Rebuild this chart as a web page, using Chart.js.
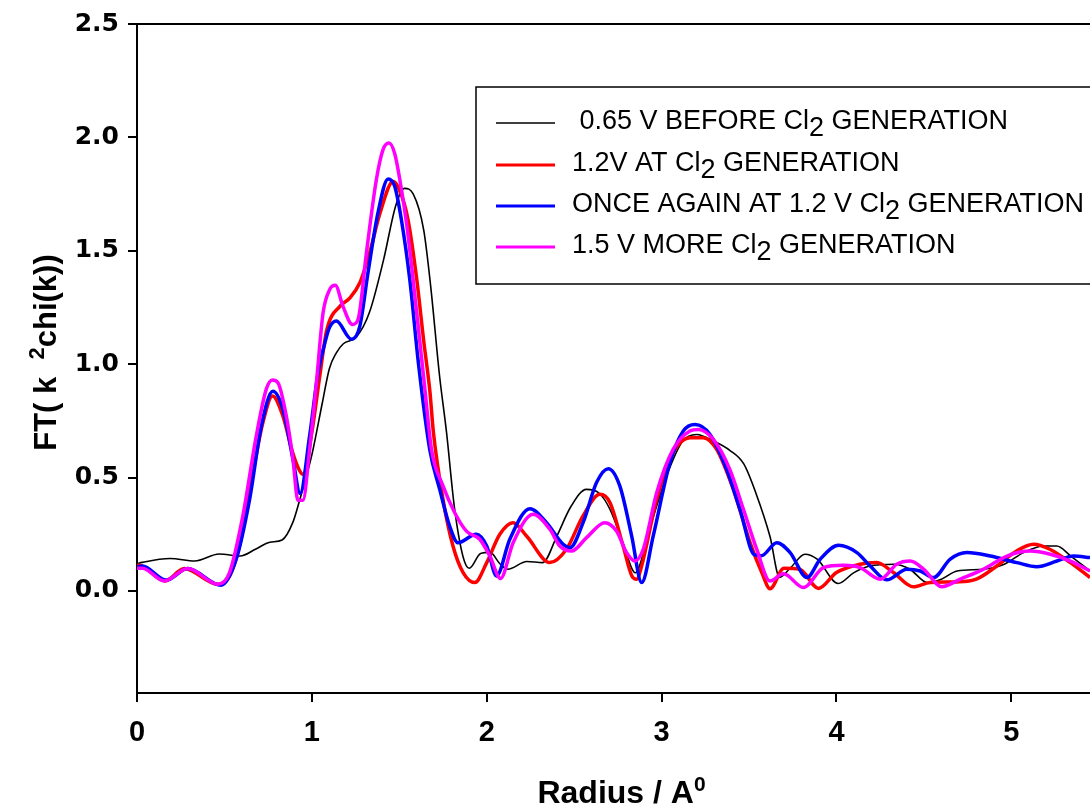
<!DOCTYPE html>
<html>
<head>
<meta charset="utf-8">
<script src="https://cdn.jsdelivr.net/npm/chart.js@4.4.1/dist/chart.umd.min.js"></script>
<style>
  body { margin: 0; background: #fff; }
  #wrap { width: 1090px; height: 808px; }
</style>
</head>
<body>
<div id="wrap"><canvas id="ftChart"></canvas></div>
<script>
// legend texts: "_2" = subscript 2, "^x" = superscript
const seriesLabels = [
  " 0.65 V BEFORE Cl_2 GENERATION",
  "1.2V AT Cl_2 GENERATION",
  "ONCE AGAIN AT 1.2 V Cl_2 GENERATION",
  "1.5 V MORE Cl_2 GENERATION",
];
const seriesColors = ["#000000", "#ff0000", "#0000ff", "#ff00ff"];

const xTitle = "Radius / A^0";
const yTitle = "FT( k  ^2chi(k))";
const xTicks = [0, 1, 2, 3, 4, 5];
const yTicks = [0, 0.5, 1, 1.5, 2, 2.5];

// 0.65 V before Cl2
const rBlack = [0, 0.03, 0.19, 0.33, 0.47, 0.59, 0.68, 0.76, 0.83, 0.89, 0.93, 1.0, 1.06, 1.1, 1.14, 1.18, 1.255, 1.33, 1.41, 1.48, 1.53, 1.58, 1.64, 1.68, 1.73, 1.77, 1.815, 1.865, 1.9, 1.965, 2.02, 2.075, 2.12, 2.23, 2.32, 2.4, 2.48, 2.57, 2.64, 2.705, 2.78, 2.85, 2.93, 3.03, 3.12, 3.2, 3.3, 3.39, 3.47, 3.54, 3.62, 3.675, 3.735, 3.82, 3.89, 4.01, 4.1, 4.19, 4.33, 4.42, 4.52, 4.6, 4.69, 4.84, 4.96, 5.07, 5.185, 5.26, 5.34, 5.45];
const ftBlack = [0.12, 0.126, 0.143, 0.132, 0.163, 0.154, 0.185, 0.215, 0.225, 0.3, 0.4, 0.6, 0.83, 0.98, 1.05, 1.09, 1.12, 1.23, 1.46, 1.7, 1.775, 1.75, 1.59, 1.34, 0.95, 0.7, 0.37, 0.15, 0.1, 0.165, 0.17, 0.12, 0.096, 0.13, 0.125, 0.24, 0.37, 0.448, 0.433, 0.36, 0.21, 0.08, 0.27, 0.51, 0.66, 0.69, 0.66, 0.62, 0.56, 0.43, 0.24, 0.06, 0.1, 0.162, 0.14, 0.033, 0.081, 0.11, 0.118, 0.096, 0.037, 0.052, 0.088, 0.096, 0.118, 0.169, 0.198, 0.198, 0.154, 0.088];

// 1.2 V at Cl2
const rRed = [0, 0.03, 0.16, 0.27, 0.46, 0.53, 0.59, 0.66, 0.72, 0.775, 0.835, 0.89, 0.93, 0.95, 1.0, 1.045, 1.085, 1.16, 1.215, 1.275, 1.33, 1.39, 1.465, 1.5, 1.55, 1.6, 1.64, 1.675, 1.695, 1.75, 1.807, 1.865, 1.932, 2.0, 2.075, 2.15, 2.23, 2.36, 2.456, 2.55, 2.647, 2.705, 2.78, 2.83, 2.857, 2.886, 2.972, 3.066, 3.162, 3.238, 3.315, 3.41, 3.506, 3.573, 3.62, 3.7, 3.79, 3.897, 4.0, 4.135, 4.23, 4.326, 4.44, 4.536, 4.69, 4.8, 4.917, 5.03, 5.127, 5.22, 5.338, 5.45];
const ftRed = [0.115, 0.11, 0.044, 0.099, 0.03, 0.066, 0.21, 0.507, 0.742, 0.86, 0.77, 0.61, 0.53, 0.514, 0.7, 0.947, 1.15, 1.255, 1.29, 1.36, 1.49, 1.667, 1.806, 1.77, 1.637, 1.373, 1.1, 0.88, 0.7, 0.404, 0.198, 0.081, 0.037, 0.125, 0.25, 0.301, 0.24, 0.125, 0.184, 0.33, 0.426, 0.389, 0.198, 0.066, 0.052, 0.11, 0.404, 0.61, 0.676, 0.676, 0.624, 0.448, 0.213, 0.081, 0.01, 0.1, 0.096, 0.011, 0.081, 0.118, 0.125, 0.081, 0.018, 0.037, 0.04, 0.052, 0.11, 0.176, 0.206, 0.184, 0.125, 0.059];

// once again at 1.2 V
const rBlue = [0, 0.03, 0.167, 0.29, 0.48, 0.567, 0.644, 0.711, 0.777, 0.835, 0.892, 0.933, 0.987, 1.035, 1.07, 1.1, 1.14, 1.226, 1.274, 1.321, 1.378, 1.436, 1.474, 1.512, 1.56, 1.61, 1.674, 1.731, 1.788, 1.835, 1.94, 2.0, 2.056, 2.132, 2.247, 2.342, 2.437, 2.476, 2.551, 2.628, 2.695, 2.761, 2.829, 2.886, 2.952, 3.048, 3.124, 3.191, 3.277, 3.372, 3.448, 3.53, 3.57, 3.659, 3.735, 3.831, 3.907, 4.012, 4.117, 4.193, 4.288, 4.403, 4.479, 4.555, 4.651, 4.746, 4.88, 5.032, 5.146, 5.261, 5.356, 5.45];
const ftBlue = [0.105, 0.11, 0.048, 0.099, 0.025, 0.14, 0.404, 0.727, 0.881, 0.8, 0.58, 0.43, 0.683, 0.96, 1.08, 1.16, 1.19, 1.11, 1.167, 1.403, 1.667, 1.817, 1.784, 1.637, 1.373, 1.0, 0.624, 0.448, 0.286, 0.213, 0.25, 0.198, 0.066, 0.228, 0.363, 0.301, 0.206, 0.191, 0.301, 0.478, 0.539, 0.463, 0.242, 0.037, 0.242, 0.566, 0.705, 0.734, 0.69, 0.536, 0.36, 0.16, 0.155, 0.213, 0.169, 0.059, 0.14, 0.201, 0.169, 0.11, 0.049, 0.096, 0.088, 0.059, 0.14, 0.169, 0.154, 0.125, 0.107, 0.132, 0.154, 0.147];

// 1.5 V more Cl2
const rMagenta = [0, 0.03, 0.157, 0.29, 0.463, 0.529, 0.605, 0.682, 0.739, 0.774, 0.806, 0.854, 0.892, 0.92, 0.949, 0.987, 1.026, 1.064, 1.102, 1.134, 1.178, 1.232, 1.264, 1.312, 1.369, 1.407, 1.441, 1.474, 1.503, 1.541, 1.579, 1.62, 1.645, 1.684, 1.75, 1.817, 1.884, 1.96, 2.018, 2.079, 2.151, 2.266, 2.361, 2.418, 2.485, 2.571, 2.675, 2.742, 2.8, 2.847, 2.895, 2.972, 3.066, 3.162, 3.21, 3.296, 3.39, 3.468, 3.544, 3.62, 3.697, 3.811, 3.926, 4.04, 4.135, 4.25, 4.345, 4.422, 4.498, 4.603, 4.708, 4.842, 4.975, 5.108, 5.223, 5.338, 5.45];
const ftMagenta = [0.1, 0.1, 0.044, 0.099, 0.03, 0.081, 0.33, 0.683, 0.889, 0.93, 0.918, 0.771, 0.58, 0.4, 0.4, 0.624, 0.918, 1.226, 1.329, 1.348, 1.255, 1.175, 1.197, 1.491, 1.814, 1.946, 1.975, 1.928, 1.814, 1.623, 1.373, 1.08, 0.9, 0.624, 0.463, 0.345, 0.264, 0.228, 0.154, 0.055, 0.213, 0.338, 0.272, 0.198, 0.176, 0.235, 0.301, 0.264, 0.169, 0.132, 0.184, 0.433, 0.624, 0.705, 0.712, 0.668, 0.536, 0.36, 0.184, 0.044, 0.076, 0.015, 0.103, 0.113, 0.103, 0.052, 0.118, 0.132, 0.096, 0.019, 0.052, 0.096, 0.154, 0.176, 0.162, 0.132, 0.088];

const seriesR = [rBlack, rRed, rBlue, rMagenta];
const seriesFT = [ftBlack, ftRed, ftBlue, ftMagenta];
const seriesWidth = [1.6, 3.5, 3.5, 3.5];

// splits text on ^x (superscript) and _x (subscript) markers
function richParts(text) {
  const parts = [];
  const re = /([_^])(.)/g;
  let last = 0, m;
  while ((m = re.exec(text)) !== null) {
    if (m.index > last) parts.push({ t: text.slice(last, m.index), k: "" });
    parts.push({ t: m[2], k: m[1] });
    last = re.lastIndex;
  }
  if (last < text.length) parts.push({ t: text.slice(last), k: "" });
  return parts;
}

function drawRich(ctx, text, x, y, font, supFont, align) {
  const parts = richParts(text);
  let total = 0;
  parts.forEach((p) => {
    ctx.font = p.k === "^" ? supFont : font;
    p.w = ctx.measureText(p.t).width;
    total += p.w;
  });
  let cx = align === "center" ? x - total / 2 : x;
  parts.forEach((p) => {
    let dy = 0;
    if (p.k === "^") dy = -12;
    if (p.k === "_") dy = 7;
    ctx.font = p.k === "^" ? supFont : font;
    ctx.fillText(p.t, cx, y + dy);
    cx += p.w;
  });
}

const decorPlugin = {
  id: "decor",
  afterDraw(chart) {
    const ctx = chart.ctx;
    const area = chart.chartArea;
    ctx.save();
    // top frame line
    ctx.strokeStyle = "#000";
    ctx.lineWidth = 2;
    ctx.beginPath();
    ctx.moveTo(area.left, area.top);
    ctx.lineTo(area.right + 2, area.top);
    ctx.stroke();

    // legend box
    ctx.fillStyle = "#fff";
    ctx.fillRect(476, 87, 620, 197);
    ctx.lineWidth = 1.5;
    ctx.strokeRect(476, 87, 620, 197);
    ctx.textBaseline = "alphabetic";
    ctx.textAlign = "left";
    const rowY = [123, 165, 206, 247];
    chart.data.datasets.forEach((ds, i) => {
      ctx.strokeStyle = ds.borderColor;
      ctx.lineWidth = i === 0 ? 1.5 : 3;
      ctx.beginPath();
      ctx.moveTo(496, rowY[i]);
      ctx.lineTo(555, rowY[i]);
      ctx.stroke();
      ctx.fillStyle = "#000";
      drawRich(ctx, ds.label, 572, rowY[i] + 6, "27px 'Liberation Sans', Arial, sans-serif",
        "27px 'Liberation Sans', Arial, sans-serif", "left");
    });

    // axis titles
    ctx.fillStyle = "#000";
    drawRich(ctx, xTitle, (area.left + area.right) / 2 + 8, 803,
      "bold 32px 'Liberation Sans', Arial, sans-serif",
      "bold 21px 'Liberation Sans', Arial, sans-serif", "center");
    ctx.translate(56, (area.top + area.bottom) / 2 - 6);
    ctx.rotate(-Math.PI / 2);
    drawRich(ctx, yTitle, 0, 0,
      "bold 31px 'Liberation Sans', Arial, sans-serif",
      "bold 22px 'Liberation Sans', Arial, sans-serif", "center");
    ctx.restore();
  },
};

const chartCtx = document.getElementById("ftChart").getContext("2d");
const ftChart = new Chart(chartCtx, {
  type: "line",
  data: {
    datasets: seriesLabels.map((label, i) => ({
      label: label,
      data: seriesR[i].map((r, j) => ({ x: r, y: seriesFT[i][j] })),
      borderColor: seriesColors[i],
      borderWidth: seriesWidth[i],
      pointRadius: 0,
      fill: false,
      cubicInterpolationMode: "monotone",
      order: 4 - i,
    })),
  },
  options: {
    responsive: true,
    maintainAspectRatio: false,
    animation: false,
    layout: { padding: { top: 24, left: 0, right: 0, bottom: 0 } },
    plugins: {
      legend: { display: false },
      tooltip: { enabled: false },
    },
    scales: {
      x: {
        type: "linear",
        min: 0,
        max: 5.45,
        afterBuildTicks: (s) => { s.ticks = xTicks.map((v) => ({ value: v })); },
        afterFit: (s) => { s.height = 115; },
        ticks: {
          color: "#000",
          padding: 14,
          autoSkip: false,
          maxRotation: 0,
          font: { family: "'Liberation Sans', Arial, sans-serif", size: 29, weight: "bold" },
          callback: (v) => String(v),
        },
        grid: { drawOnChartArea: false, drawTicks: true, tickLength: 9, color: "#000", lineWidth: 2 },
        border: { display: true, color: "#000", width: 2 },
      },
      y: {
        min: -0.45,
        max: 2.5,
        afterBuildTicks: (s) => { s.ticks = yTicks.map((v) => ({ value: v })); },
        afterFit: (s) => { s.width = 137; },
        ticks: {
          color: "#000",
          padding: 9,
          font: { family: "'DejaVu Sans', sans-serif", size: 25, weight: "bold" },
          callback: (v) => v.toFixed(1),
        },
        grid: { drawOnChartArea: false, drawTicks: true, tickLength: 9, color: "#000", lineWidth: 2 },
        border: { display: true, color: "#000", width: 2 },
      },
    },
  },
  plugins: [decorPlugin],
});
</script>
</body>
</html>
